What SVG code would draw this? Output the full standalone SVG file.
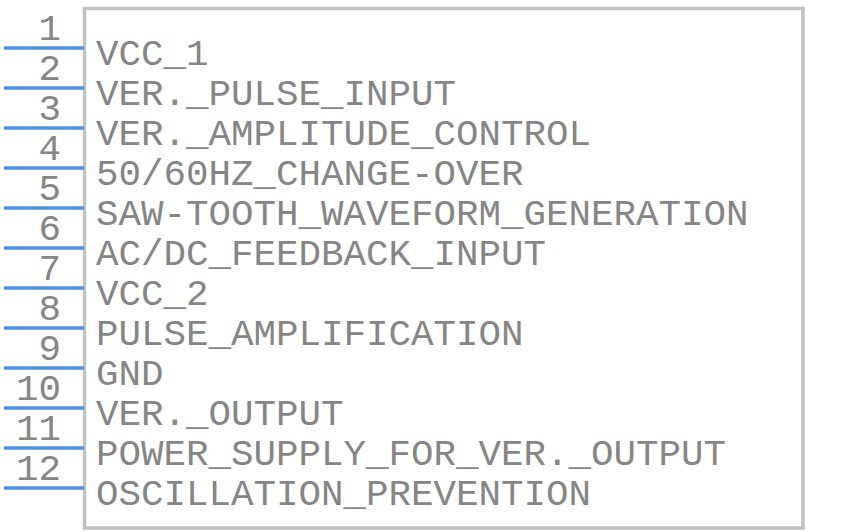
<svg xmlns="http://www.w3.org/2000/svg" width="850" height="532" viewBox="0 0 850 532">
<style>
.body{fill:#ffffff;stroke:#c0c0c0;stroke-width:3.5}
.pin{stroke:#4a90e2;stroke-width:3.5}
.num{font-family:"Liberation Mono",monospace;font-size:37.5px;fill:#858585;text-anchor:end}
.lbl{font-family:"Liberation Mono",monospace;font-size:37.5px;fill:#858585}
</style>
<g id="body"><rect class="body" x="84.5" y="8.5" width="718.5" height="519.5"/></g>
<g id="connectors">
<line class="pin" x1="4" y1="48" x2="84" y2="48"/>
<line class="pin" x1="4" y1="88" x2="84" y2="88"/>
<line class="pin" x1="4" y1="128" x2="84" y2="128"/>
<line class="pin" x1="4" y1="168" x2="84" y2="168"/>
<line class="pin" x1="4" y1="208" x2="84" y2="208"/>
<line class="pin" x1="4" y1="248" x2="84" y2="248"/>
<line class="pin" x1="4" y1="288" x2="84" y2="288"/>
<line class="pin" x1="4" y1="328" x2="84" y2="328"/>
<line class="pin" x1="4" y1="368" x2="84" y2="368"/>
<line class="pin" x1="4" y1="408" x2="84" y2="408"/>
<line class="pin" x1="4" y1="448" x2="84" y2="448"/>
<line class="pin" x1="4" y1="488" x2="84" y2="488"/>
</g>
<g id="pin1"><text class="num" x="61" y="40">1</text><text class="lbl" x="96" y="65">VCC_1</text></g>
<g id="pin2"><text class="num" x="61" y="80">2</text><text class="lbl" x="96" y="105">VER._PULSE_INPUT</text></g>
<g id="pin3"><text class="num" x="61" y="120">3</text><text class="lbl" x="96" y="145">VER._AMPLITUDE_CONTROL</text></g>
<g id="pin4"><text class="num" x="61" y="160">4</text><text class="lbl" x="96" y="185">50/60HZ_CHANGE-OVER</text></g>
<g id="pin5"><text class="num" x="61" y="200">5</text><text class="lbl" x="96" y="225">SAW-TOOTH_WAVEFORM_GENERATION</text></g>
<g id="pin6"><text class="num" x="61" y="240">6</text><text class="lbl" x="96" y="265">AC/DC_FEEDBACK_INPUT</text></g>
<g id="pin7"><text class="num" x="61" y="280">7</text><text class="lbl" x="96" y="305">VCC_2</text></g>
<g id="pin8"><text class="num" x="61" y="320">8</text><text class="lbl" x="96" y="345">PULSE_AMPLIFICATION</text></g>
<g id="pin9"><text class="num" x="61" y="360">9</text><text class="lbl" x="96" y="385">GND</text></g>
<g id="pin10"><text class="num" x="61" y="400">10</text><text class="lbl" x="96" y="425">VER._OUTPUT</text></g>
<g id="pin11"><text class="num" x="61" y="440">11</text><text class="lbl" x="96" y="465">POWER_SUPPLY_FOR_VER._OUTPUT</text></g>
<g id="pin12"><text class="num" x="61" y="480">12</text><text class="lbl" x="96" y="505">OSCILLATION_PREVENTION</text></g>
</svg>
